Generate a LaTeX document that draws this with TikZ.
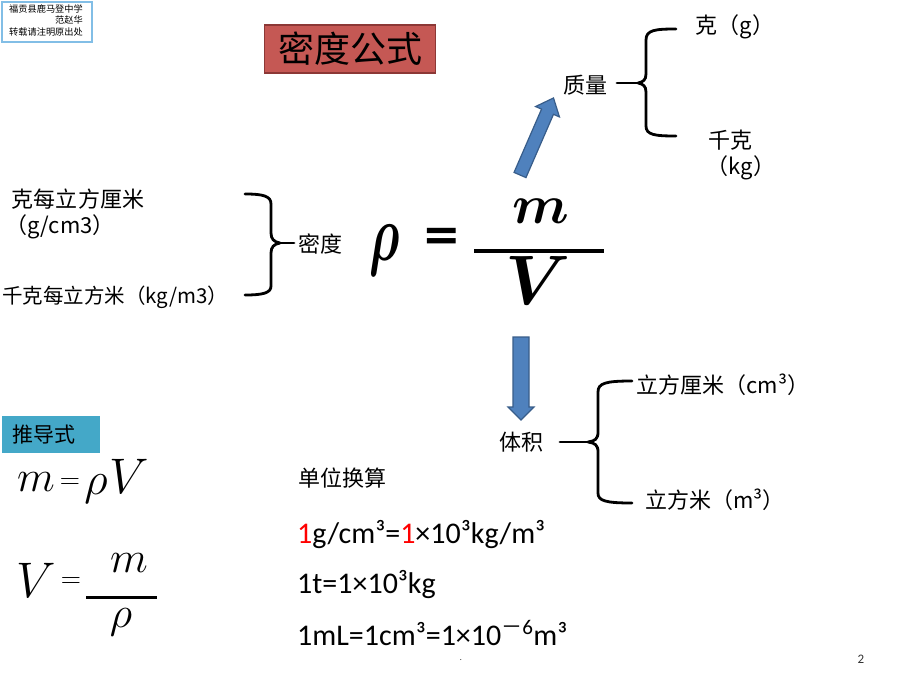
\RequirePackage{fix-cm}
\documentclass[tikz,border=0pt]{standalone}
\usepackage{amsmath}
\usepackage{bm}
\usepackage{fontspec}
\setmainfont{Carlito}
\newfontfamily\cjk{Noto Sans CJK SC}
\newfontfamily\djv{DejaVu Sans}
\definecolor{arrowfill}{RGB}{79,129,189}
\definecolor{arrowdraw}{RGB}{56,93,138}
\definecolor{titlefill}{RGB}{197,88,84}
\definecolor{titledraw}{RGB}{140,56,54}
\definecolor{tealfill}{RGB}{68,168,200}
\definecolor{noteblue}{RGB}{130,190,230}
\definecolor{unitred}{RGB}{255,0,0}
\tikzset{
  cj/.style={font=\cjk\fontsize{22}{26}\selectfont, inner sep=0pt},
  unitline/.style={font=\fontsize{30}{34}\selectfont, inner sep=0pt, anchor=base west},
  bracepath/.style={line width=2.8pt, line cap=round, line join=round},
  blockarrow/.style={fill=arrowfill, draw=arrowdraw, line width=1.2pt, line join=miter},
  bigmath/.style={inner sep=0pt},
  fracline/.style={line width=3pt},
}
\begin{document}
\begin{tikzpicture}[x=1pt,y=-1pt]
\useasboundingbox (0,0) rectangle (920,690);
\fill[white] (0,0) rectangle (920,690);

% note box top-left
\draw[noteblue, line width=1.8pt] (2,2) rectangle (92,42);
\node[font=\cjk\fontsize{9.2}{11.5}\selectfont, align=right, anchor=north east, inner sep=0pt] (note) at (83,4) {福贡县鹿马登中学\\范赵华\\转载请注明原出处};

% title
\node[draw=titledraw, fill=titlefill, line width=1.5pt, minimum width=171pt, minimum height=48pt, inner sep=0pt,
      font=\cjk\fontsize{36}{40}\selectfont] (title) at (350,49) {密度公式};

% mass branch
\node[cj] (zl) at (585,85) {质量};
\node[cj] (ke) at (735,27) {克（g）};
\node[cj] (qk) at (730,140) {千克};
\node[cj] (kg) at (741,168) {（kg）};
\draw[bracepath] (676,29) .. controls (655,29) and (646,30) .. (646,40) -- (646,74)
  .. controls (646,80) and (643,82) .. (638,83) .. controls (643,84) and (646,86) .. (646,92)
  -- (646,126) .. controls (646,135) and (655,136) .. (676,136);
\coordinate (zltail) at (617,83);
\draw[bracepath] (zltail) -- (638,83);

% up arrow
\begin{scope}[shift={(520,175)}, rotate=66.5]
  \draw[blockarrow] (0,-6.5) -- (69,-6.5) -- (69,-13) -- (84,0) -- (69,13) -- (69,6.5) -- (0,6.5) -- cycle;
\end{scope}

% density branch
\node[cj] (g1) at (78,199) {克每立方厘米};
\node[cj] (g2) at (60,227) {（g/cm3）};
\node[cj, font=\cjk\fontsize{20.5}{24}\selectfont, anchor=west] (kg1) at (2,297) {千克每立方米（kg/m3）};
\node[cj] (md) at (320,244) {密度};
\draw[bracepath] (245,194) .. controls (263,194) and (271,196) .. (271,204) -- (271,233)
  .. controls (271,239) and (274,242) .. (280,243) .. controls (274,244) and (271,247) .. (271,253)
  -- (271,286) .. controls (271,293) and (263,295) .. (245,295);
\coordinate (mdtail) at (294,243);
\draw[bracepath] (280,243) -- (mdtail);

% main formula
\node[bigmath, font=\fontsize{80}{90}\selectfont] (rho) at (385,250) {\scalebox{0.62}[1]{$\bm{\rho}$}};
\node[bigmath, font=\djv\bfseries\fontsize{46}{50}\selectfont] (eq) at (442,239) {=};
\node[bigmath, font=\fontsize{55}{60}\selectfont] (mm) at (541,211) {$\bm{m}$};
\node[bigmath, font=\fontsize{70}{76}\selectfont] (vv) at (538,280) {$\bm{V}$};
\coordinate (fl) at (474,251);
\coordinate (fr) at (604,251);
\draw[fracline, line width=3.5pt] (fl) -- (fr);

% down arrow
\draw[blockarrow] (513,337) -- (529,337) -- (529,407) -- (534,407) -- (521,420) -- (508,407) -- (513,407) -- cycle;

% volume branch
\node[cj] (tj) at (521,442) {体积};
\node[cj] (cm3) at (723,385) {立方厘米（cm³）};
\node[cj] (m3) at (715,500) {立方米（m³）};
\draw[bracepath] (632,381) .. controls (606,381) and (598,383) .. (598,392) -- (598,432)
  .. controls (598,439) and (595,441) .. (588,442) .. controls (595,443) and (598,445) .. (598,452)
  -- (598,493) .. controls (598,501) and (606,503) .. (632,503);
\coordinate (tjtail) at (560,442);
\draw[bracepath] (tjtail) -- (588,442);

% derivation box
\fill[tealfill] (2,416) rectangle (100,453);
\node[font=\cjk\fontsize{21}{24}\selectfont, inner sep=0pt] (tdx) at (44,435) {推导式};

% m = rho V
\node[bigmath, font=\fontsize{44}{48}\selectfont] (s1m) at (36,482) {$m$};
\node[bigmath, font=\fontsize{28}{30}\selectfont] (s1eq) at (70,484) {$=$};
\node[bigmath, font=\fontsize{46}{50}\selectfont] (s1r) at (96,489) {$\rho$};
\node[bigmath, font=\fontsize{50}{54}\selectfont] (s1v) at (129,476) {$V$};

% V = m / rho
\node[bigmath, font=\fontsize{50}{54}\selectfont] (s2v) at (36,580) {$V$};
\node[bigmath, font=\fontsize{28}{30}\selectfont] (s2eq) at (71,583) {$=$};
\node[bigmath, font=\fontsize{44}{48}\selectfont] (s2m) at (129,563) {$m$};
\node[bigmath, font=\fontsize{44}{48}\selectfont] (s2r) at (121,622) {$\rho$};
\coordinate (s2l) at (86,597);
\coordinate (s2rr) at (157,597);
\draw[line width=3pt] (s2l) -- (s2rr);

% unit conversions
\node[cj] (dw) at (342,478) {单位换算};
\node[unitline] (u1) at (297,543) {{\color{unitred}1}g/cm³={\color{unitred}1}×10³kg/m³};
\node[unitline] (u2) at (297,593) {1t=1×10³kg};
\node[unitline] (u3) at (297,645) {1mL=1cm³=1×10\textsuperscript{{\cjk －}6}m³};

% footer
\node[font=\fontsize{8}{9}\selectfont, inner sep=0pt] (dot) at (461,660) {.};
\node[font=\fontsize{13}{15}\selectfont, text=black!80, inner sep=0pt] (pg) at (861,659) {2};
\end{tikzpicture}
\end{document}
